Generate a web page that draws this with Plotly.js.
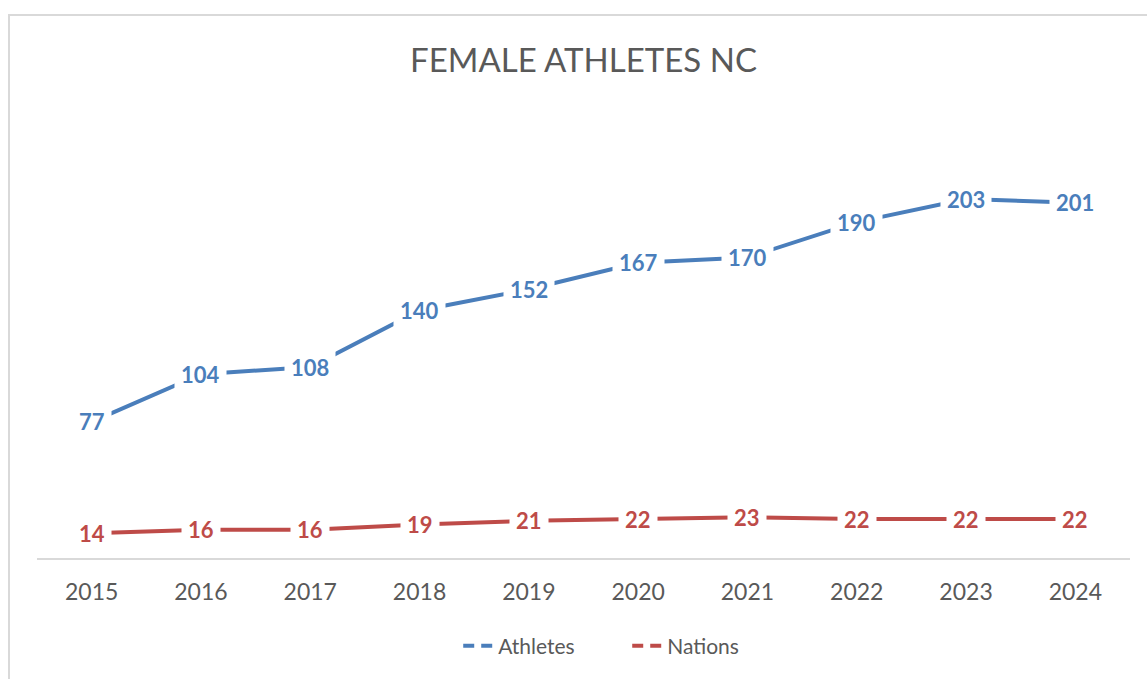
<!DOCTYPE html>
<html>
<head>
<meta charset="utf-8">
<script src="https://cdn.plot.ly/plotly-3.0.1.min.js"></script>
<style>
  html, body { margin: 0; padding: 0; background: white; }
  #chart { width: 1147px; height: 679px; }
  #frame {
    position: absolute; left: 8px; top: 14px; width: 1160px; height: 700px;
    border: 2px solid #d9d9d9; pointer-events: none; box-sizing: border-box;
  }
</style>
</head>
<body>
<div id="chart"></div>
<div id="frame"></div>
<script>
// data
const years    = [2015, 2016, 2017, 2018, 2019, 2020, 2021, 2022, 2023, 2024];
const athletes = [77, 104, 108, 140, 152, 167, 170, 190, 203, 201];
const nations  = [14, 16, 16, 19, 21, 22, 23, 22, 22, 22];

const BLUE = "#4a7ebb";
const RED  = "#be4b48";
const GREY = "#595959";
const FONT = "Lato, 'Open Sans', sans-serif";

const series = [
  { name: "Athletes", values: athletes, color: BLUE },
  { name: "Nations",  values: nations,  color: RED },
];

const traces = [];
// the lines themselves (solid, no legend entry)
series.forEach((s) => {
  traces.push({
    x: years, y: s.values, type: "scatter", mode: "lines",
    line: { color: s.color, width: 4 }, showlegend: false,
  });
});
// legend-only entries, dashed like the Excel legend keys
series.forEach((s) => {
  traces.push({
    x: years, y: years.map(() => null), type: "scatter", mode: "lines",
    name: s.name, line: { color: s.color, width: 4, dash: "11px,7px" },
  });
});

// data labels sitting on the points with white boxes (breaks the line like Excel)
const annotations = [];
series.forEach((s) => {
  s.values.forEach((v, i) => {
    annotations.push({
      x: years[i], y: v, xref: "x", yref: "y",
      text: String(v), showarrow: false,
      font: { family: FONT, size: 22, color: s.color, weight: "bold" },
      bgcolor: "white", borderpad: 6,
    });
  });
});

const layout = {
  width: 1147, height: 679,
  font: { family: FONT, color: GREY },
  paper_bgcolor: "white", plot_bgcolor: "white",
  margin: { l: 37, r: 17, t: 116, b: 121 },
  title: {
    text: "FEMALE ATHLETES NC",
    font: { family: FONT, size: 33, color: GREY },
    x: 0.5, xref: "paper", y: 1 - 60 / 679, yref: "container", yanchor: "middle",
  },
  xaxis: {
    type: "linear", range: [2014.5, 2024.5], tickvals: years, ticktext: years.map(String),
    showgrid: false, zeroline: false,
    showline: true, linecolor: "#d9d9d9", linewidth: 2,
    ticks: "", ticklabelstandoff: 12,
    tickfont: { family: FONT, size: 23, color: GREY },
  },
  yaxis: {
    range: [0, 250], visible: false, showgrid: false, zeroline: false,
  },
  showlegend: true,
  legend: {
    orientation: "h", x: 0.54, xanchor: "center",
    yref: "container", y: 1 - 646 / 679, yanchor: "middle",
    font: { family: FONT, size: 21, color: GREY },
    itemwidth: 30, entrywidth: 124,
  },
  annotations,
};

Plotly.newPlot("chart", traces, layout, { displayModeBar: false, staticPlot: true });
</script>
</body>
</html>
